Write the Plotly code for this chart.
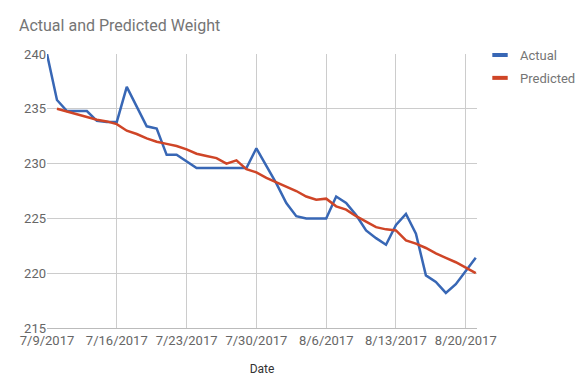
import plotly.graph_objects as go
import pandas as pd

dates = pd.date_range("2017-07-09", "2017-08-21", freq="D").strftime("%Y-%m-%d").tolist()

actual = [240.0, 235.8, 234.8, 234.8, 234.8, 233.9, 233.8, 233.8, 237.0, 235.2,
          233.4, 233.2, 230.8, 230.8, 230.2, 229.6, 229.6, 229.6, 229.6, 229.6,
          229.6, 231.4, 229.8, 228.2, 226.4, 225.2, 225.0, 225.0, 225.0, 227.0,
          226.4, 225.3, 223.9, 223.2, 222.6, 224.4, 225.4, 223.6, 219.8, 219.2,
          218.2, 219.0, 220.2, 221.4]

predicted = [None, 235.0, 234.75, 234.55, 234.3, 234.0, 233.85, 233.6, 233.0, 232.7,
             232.3, 232.0, 231.8, 231.6, 231.3, 230.9, 230.7, 230.5, 230.0, 230.3,
             229.5, 229.2, 228.7, 228.3, 227.9, 227.5, 227.0, 226.7, 226.8, 226.1,
             225.8, 225.2, 224.7, 224.2, 224.0, 223.9, 223.0, 222.7, 222.3, 221.8,
             221.4, 221.0, 220.5, 220.0]

series_names = ["Actual", "Predicted"]
colors = ["#3867b5", "#cf4527"]

fig = go.Figure()
for name, vals, c in zip(series_names, [actual, predicted], colors):
    fig.add_trace(go.Scatter(x=dates, y=vals, mode="lines", name=name,
                             legendgroup=name,
                             line=dict(color=c, width=2.5), showlegend=False))
    fig.add_trace(go.Scatter(x=[None], y=[None], mode="markers", name=name,
                             legendgroup=name,
                             marker=dict(symbol="line-ew", size=11,
                                         line=dict(color=c, width=4))))

# page body has an 8px margin, so the figure is offset by 8px
W, H = 579, 371
fig.update_layout(
    width=W, height=H,
    margin=dict(l=39, r=110, t=46, b=51, autoexpand=False),
    paper_bgcolor="white", plot_bgcolor="white",
    font=dict(family="Roboto", size=13, color="#666666"),
    title=dict(text="Actual and Predicted Weight", x=11/W, xref="container",
               xanchor="left", y=1-17/H, yref="container", yanchor="middle",
               font=dict(family="Roboto", size=16, color="#757575")),
    legend=dict(x=1.007, y=1.051, xanchor="left", yanchor="top",
                font=dict(size=13, color="#757575"), itemwidth=30,
                tracegroupgap=3),
    showlegend=True,
)
fig.update_xaxes(
    type="date", range=["2017-07-09", "2017-08-21 03:00"],
    tick0="2017-07-09", dtick=7*24*3600*1000, tickformat="%-m/%-d/%Y",
    showgrid=True, gridcolor="#cccccc", gridwidth=1,
    showline=True, linecolor="#bbbbbb", linewidth=1,
    ticks="", tickfont=dict(size=13, color="#666666"),
    title=dict(text="Date", font=dict(size=12, color="#333333"), standoff=18),
    zeroline=False, automargin=False,
)
fig.update_yaxes(
    range=[215, 240], dtick=5, tick0=215,
    showgrid=True, gridcolor="#cccccc", gridwidth=1,
    ticks="", tickfont=dict(size=13, color="#666666"),
    zeroline=False, automargin=False,
)

fig.write_html("out.html")
